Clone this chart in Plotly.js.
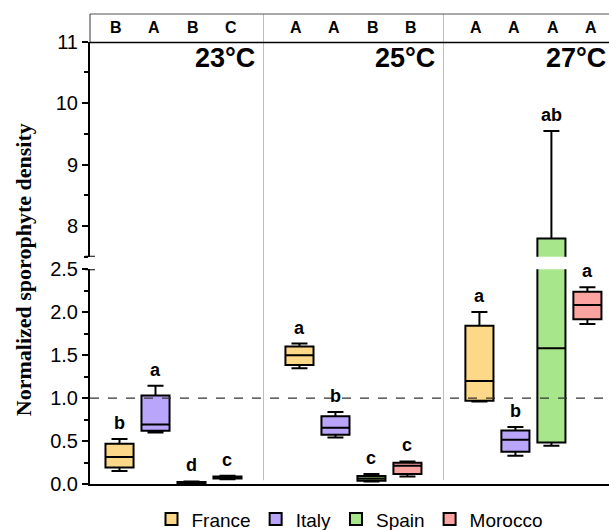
<!DOCTYPE html>
<html>
<head>
<meta charset="utf-8">
<script src="https://cdn.plot.ly/plotly-3.0.1.min.js"></script>
<style>html,body{margin:0;padding:0;background:#fff;overflow:hidden}</style>
</head>
<body>
<div id="chart" style="width:609px;height:530px"></div>
<script>
// ---------- data ----------
const temps = ['23°C', '25°C', '27°C'];
const countries = ['France', 'Italy', 'Spain', 'Morocco'];

const franceMin = [0.151, 1.349, 0.960];
const franceQ1  = [0.193, 1.387, 0.969];
const franceMed = [0.314, 1.500, 1.198];
const franceQ3  = [0.469, 1.600, 1.844];
const franceMax = [0.523, 1.635, 2.003];

const italyMin = [0.600, 0.542, 0.329];
const italyQ1  = [0.620, 0.573, 0.376];
const italyMed = [0.693, 0.655, 0.515];
const italyQ3  = [1.030, 0.790, 0.623];
const italyMax = [1.143, 0.837, 0.663];

const spainMin = [0.005, 0.030, 0.445];
const spainQ1  = [0.012, 0.038, 0.484];
const spainMed = [0.018, 0.065, 1.581];
const spainQ3  = [0.024, 0.093, 7.797];
const spainMax = [0.030, 0.116, 9.548];

const moroccoMin = [0.055, 0.088, 1.864];
const moroccoQ1  = [0.065, 0.116, 1.919];
const moroccoMed = [0.075, 0.213, 2.085];
const moroccoQ3  = [0.088, 0.248, 2.240];
const moroccoMax = [0.095, 0.263, 2.290];

// significance letters (per country, per temperature)
const franceLetters  = ['b', 'a', 'a'];
const italyLetters   = ['a', 'b', 'b'];
const spainLetters   = ['d', 'c', 'ab'];
const moroccoLetters = ['c', 'c', 'a'];

// letters in the top strip (per temperature, per country)
const top23 = ['B', 'A', 'B', 'C'];
const top25 = ['A', 'A', 'B', 'B'];
const top27 = ['A', 'A', 'A', 'A'];

const lowerTicks = [0, 0.5, 1.0, 1.5, 2.0, 2.5];
const upperTicks = [8, 9, 10, 11];
const refLine = 1.0;

// ---------- styling ----------
const colors = ['#FDD888', '#B9A5F9', '#A8E68C', '#FCA4A1'];
const FONT = 'Liberation Sans, Arial, sans-serif';
const lowerRange = [0, 2.5];
const upperRange = [7.5, 11];
const slotsPerPanel = 5;

const stats = [
  [franceMin, franceQ1, franceMed, franceQ3, franceMax, franceLetters],
  [italyMin, italyQ1, italyMed, italyQ3, italyMax, italyLetters],
  [spainMin, spainQ1, spainMed, spainQ3, spainMax, spainLetters],
  [moroccoMin, moroccoQ1, moroccoMed, moroccoQ3, moroccoMax, moroccoLetters]
];
const tops = [top23, top25, top27];

const traces = [];
const annotations = [];
const boxWidth = 0.78;

stats.forEach((s, c) => {
  const xs = temps.map((t, i) => i * slotsPerPanel + c);
  const base = {
    type: 'box',
    name: countries[c],
    x: xs,
    lowerfence: s[0], q1: s[1], median: s[2], q3: s[3], upperfence: s[4],
    width: boxWidth,
    whiskerwidth: 0.57,
    fillcolor: colors[c],
    line: {color: '#000', width: 2},
    hoverinfo: 'skip'
  };
  traces.push(Object.assign({}, base, {xaxis: 'x', yaxis: 'y', showlegend: true}));
  // parts reaching the upper (broken) axis
  const idx = xs.map((x, i) => i).filter(i => s[4][i] > upperRange[0]);
  if (idx.length) {
    traces.push(Object.assign({}, base, {
      x: idx.map(i => xs[i]),
      lowerfence: idx.map(i => s[0][i]), q1: idx.map(i => s[1][i]),
      median: idx.map(i => s[2][i]), q3: idx.map(i => s[3][i]),
      upperfence: idx.map(i => s[4][i]),
      xaxis: 'x', yaxis: 'y2', showlegend: false
    }));
  }
  xs.forEach((x, i) => {
    const up = s[4][i] > lowerRange[1];
    annotations.push({
      x: x, y: s[4][i], xref: 'x', yref: up ? 'y2' : 'y',
      text: '<b>' + s[5][i] + '</b>', showarrow: false,
      xanchor: 'center', yanchor: 'bottom', yshift: 4,
      font: {family: FONT, size: 18, color: '#000'}
    });
  });
});

// top strip letters and panel labels
tops.forEach((arr, t) => {
  arr.forEach((L, c) => {
    annotations.push({
      x: t * slotsPerPanel + c, y: 0.9705, xref: 'x', yref: 'paper',
      text: '<b>' + L + '</b>', showarrow: false, xshift: (c - 1.5) * 2.5,
      xanchor: 'center', yanchor: 'middle',
      font: {family: FONT, size: 16, color: '#000'}
    });
  });
  const last = t === tops.length - 1;
  annotations.push(Object.assign({
    y: 10.73, yref: 'y2',
    text: '<b>' + temps[t] + '</b>', showarrow: false, yanchor: 'middle',
    font: {family: FONT, size: 27, color: '#000'}
  }, last ? {x: 0.999, xref: 'paper', xanchor: 'right'}
          : {x: t * slotsPerPanel + 2.05, xref: 'x', xanchor: 'left'}));
});

// y title
annotations.push({
  x: -0.129, y: 0.455, xref: 'paper', yref: 'paper',
  text: '<b>Normalized sporophyte density</b>', showarrow: false, textangle: -90,
  xanchor: 'center', yanchor: 'middle',
  font: {family: 'Liberation Serif, Times New Roman, serif', size: 22, color: '#000'}
});

const shapes = [];
// panel dividers
[1, 2].forEach(p => {
  shapes.push({type: 'line', xref: 'x', yref: 'paper', x0: p * slotsPerPanel - 1, x1: p * slotsPerPanel - 1,
    y0: 0.008, y1: 1, line: {color: '#bdbdbd', width: 1}, layer: 'below'});
});
// strip borders
shapes.push({type: 'line', xref: 'paper', yref: 'paper', x0: 0, x1: 1, y0: 1, y1: 1, line: {color: '#555', width: 1.2}});
shapes.push({type: 'line', xref: 'paper', yref: 'paper', x0: 0, x1: 0, y0: 0.94, y1: 1, line: {color: '#555', width: 1.2}});
shapes.push({type: 'line', xref: 'paper', yref: 'y2', x0: 0, x1: 1, y0: upperRange[1], y1: upperRange[1], line: {color: '#000', width: 3}});
// reference line
shapes.push({type: 'line', xref: 'paper', yref: 'y', x0: 0, x1: 1, y0: refLine, y1: refLine,
  line: {color: '#333', width: 1.3, dash: 'dash'}, layer: 'above'});
// break caps
shapes.push({type: 'line', xref: 'paper', yref: 'y', x0: -0.0096, x1: 0.0096, y0: lowerRange[1], y1: lowerRange[1], line: {color: '#000', width: 2}});
shapes.push({type: 'line', xref: 'paper', yref: 'y2', x0: -0.0096, x1: 0.0096, y0: upperRange[0], y1: upperRange[0], line: {color: '#000', width: 2}});

const yCommon = {
  showgrid: false, zeroline: false, showline: true, linecolor: '#000', linewidth: 2,
  ticks: 'outside', ticklen: 6, tickwidth: 2, tickcolor: '#000',
  tickfont: {family: FONT, size: 20, color: '#000'},
  anchor: 'x', fixedrange: true
};

const layout = {
  width: 609, height: 530,
  margin: {l: 90, r: 0, t: 14, b: 46, autoexpand: false},
  paper_bgcolor: '#fff', plot_bgcolor: 'rgba(0,0,0,0)',
  showlegend: true,
  legend: {
    orientation: 'h', x: 0.5, xanchor: 'center', y: -0.075, yanchor: 'middle',
    font: {family: FONT, size: 19, color: '#000'}, traceorder: 'normal'
  },
  xaxis: {
    range: [-0.82, 13.6], showticklabels: false, ticks: '', showgrid: false, zeroline: false,
    showline: true, linecolor: '#000', linewidth: 2, anchor: 'y', fixedrange: true
  },
  yaxis: Object.assign({}, yCommon, {
    domain: [0, 0.4568], range: lowerRange, tickvals: lowerTicks, tickformat: '.1f',
    minor: {dtick: 0.25, ticks: 'outside', ticklen: 4, tickwidth: 2, tickcolor: '#000', showgrid: false}
  }),
  yaxis2: Object.assign({}, yCommon, {
    domain: [0.4836, 0.9411], range: upperRange, tickvals: upperTicks,
    minor: {dtick: 0.5, ticks: 'outside', ticklen: 4, tickwidth: 2, tickcolor: '#000', showgrid: false}
  }),
  boxmode: 'overlay',
  annotations: annotations,
  shapes: shapes,
  hovermode: false
};

Plotly.newPlot('chart', traces, layout, {staticPlot: true, displayModeBar: false});
</script>
</body>
</html>
